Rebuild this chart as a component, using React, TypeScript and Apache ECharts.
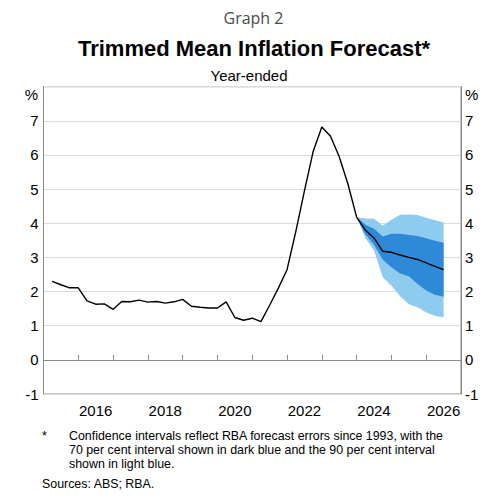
import { useEffect, useRef } from 'react';
import * as echarts from 'echarts';

// ---- data ----
const yearCategories = ['2015', '2016', '2017', '2018', '2019', '2020', '2021', '2022', '2023', '2024', '2025', '2026'];
const yMin = -1;
const yMax = 8;

// Trimmed mean inflation, year-ended %, quarterly from Mar 2015 to Dec 2023
const historyStart = 2015.25; // plotted at quarter end
const quarterStep = 0.25;
const trimmedMean = [
  2.3, 2.2, 2.11, 2.11,
  1.73, 1.63, 1.64, 1.48,
  1.71, 1.7, 1.75, 1.69,
  1.71, 1.66, 1.7, 1.77,
  1.57, 1.54, 1.52, 1.52,
  1.7, 1.24, 1.16, 1.22,
  1.12, 1.6, 2.1, 2.64,
  3.75, 4.95, 6.1, 6.82,
  6.55, 5.95, 5.15, 4.18,
];

// Forecast, Dec 2023 to Jun 2026
const forecastStart = 2024.0;
const forecastCentral = [4.18, 3.8, 3.57, 3.18, 3.15, 3.07, 3.0, 2.94, 2.84, 2.74, 2.64];
const ninetyUpper = [4.18, 4.14, 4.13, 3.93, 4.1, 4.25, 4.26, 4.24, 4.16, 4.09, 4.02];
const seventyUpper = [4.18, 3.96, 3.84, 3.61, 3.69, 3.69, 3.66, 3.63, 3.56, 3.49, 3.43];
const seventyLower = [4.18, 3.68, 3.37, 2.93, 2.71, 2.53, 2.45, 2.22, 2.03, 1.91, 1.85];
const ninetyLower = [4.18, 3.57, 3.2, 2.42, 2.18, 1.86, 1.63, 1.54, 1.39, 1.29, 1.24];

const footnoteLines = [
  'Confidence intervals reflect RBA forecast errors since 1993, with the',
  '70 per cent interval shown in dark blue and the 90 per cent interval',
  'shown in light blue.',
];
const sourcesText = 'Sources: ABS; RBA.';

const LIGHT = '#8fcbef';
const DARK = '#2e8ad8';
const FONT = '"Liberation Sans", Arial, sans-serif';

export default function App() {
  const ref = useRef<HTMLDivElement>(null);

  useEffect(() => {
    if (!ref.current) return;
    const chart = echarts.init(ref.current, undefined, { renderer: 'svg' });

    const histData = trimmedMean.map((v, i) => [historyStart + i * quarterStep, v]);
    const fx = (i: number) => forecastStart + i * quarterStep;
    const lineData = histData.concat(forecastCentral.slice(1).map((v, i) => [fx(i + 1), v]));

    const bands = [
      { lower: ninetyLower, upper: ninetyUpper, color: LIGHT },
      { lower: seventyLower, upper: seventyUpper, color: DARK },
    ];

    const gridLineColors: string[] = [];
    for (let v = yMin; v <= yMax; v++) gridLineColors.push(v === 0 ? '#a8a8a8' : '#dadada');

    chart.setOption({
      animation: false,
      grid: {
        left: 43.5,
        right: 38,
        top: 86.7,
        bottom: 106,
        show: true,
        borderColor: '#8a8a8a',
        borderWidth: 1,
        backgroundColor: 'transparent',
      },
      xAxis: [
        {
          type: 'value',
          min: 2015,
          max: 2027,
          interval: 1,
          position: 'bottom',
          axisLine: { show: true, lineStyle: { color: '#8a8a8a', width: 1 } },
          axisTick: { show: true, inside: true, length: 5, lineStyle: { color: '#8a8a8a' } },
          axisLabel: { show: false },
          splitLine: { show: false },
        },
        {
          type: 'category',
          data: yearCategories,
          position: 'bottom',
          boundaryGap: true,
          axisLine: { show: false },
          axisTick: { show: false },
          splitLine: { show: false },
          axisLabel: {
            interval: (index: number) => index % 2 === 1,
            fontSize: 15,
            fontFamily: FONT,
            color: '#000',
            margin: 9,
          },
        },
      ],
      yAxis: [
        {
          type: 'value',
          min: yMin,
          max: yMax,
          interval: 1,
          position: 'left',
          axisLine: { show: true, lineStyle: { color: '#8a8a8a' } },
          axisTick: { show: false },
          axisLabel: {
            formatter: (v: number) => (v === yMax ? '' : String(v)),
            fontSize: 15,
            fontFamily: FONT,
            color: '#000',
            margin: 5,
          },
          splitLine: { show: true, lineStyle: { color: gridLineColors, width: 1 } },
        },
        {
          type: 'value',
          min: yMin,
          max: yMax,
          interval: 1,
          position: 'right',
          axisLine: { show: true, lineStyle: { color: '#8a8a8a' } },
          axisTick: { show: false },
          axisLabel: {
            formatter: (v: number) => (v === yMax ? '' : String(v)),
            fontSize: 15,
            fontFamily: FONT,
            color: '#000',
            margin: 4,
          },
          splitLine: { show: false },
        },
      ],
      series: [
        {
          name: 'Confidence intervals',
          type: 'custom',
          xAxisIndex: 0,
          yAxisIndex: 0,
          silent: true,
          clip: false,
          z: 2,
          data: bands.map(() => [forecastStart, forecastCentral[0]]),
          renderItem: (params: any, api: any) => {
            const b = bands[params.dataIndex];
            const pts: number[][] = [];
            for (let i = 0; i < b.upper.length; i++) pts.push(api.coord([fx(i), b.upper[i]]));
            for (let i = b.lower.length - 1; i >= 0; i--) pts.push(api.coord([fx(i), b.lower[i]]));
            return { type: 'polygon', shape: { points: pts }, style: { fill: b.color } };
          },
        },
        {
          name: 'Trimmed mean',
          type: 'line',
          xAxisIndex: 0,
          yAxisIndex: 0,
          data: lineData,
          symbol: 'none',
          silent: true,
          lineStyle: { color: '#000', width: 1.4 },
          z: 5,
        },
      ],
      graphic: [
        {
          type: 'text',
          x: 253.5,
          y: 18,
          style: {
            text: 'Graph 2',
            font: '16px "Open Sans", sans-serif',
            fill: '#4a4a4a',
            textAlign: 'center',
            textVerticalAlign: 'middle',
          },
        },
        {
          type: 'text',
          x: 254,
          y: 48,
          style: {
            text: 'Trimmed Mean Inflation Forecast*',
            font: `bold 22px ${FONT}`,
            fill: '#000',
            textAlign: 'center',
            textVerticalAlign: 'middle',
          },
        },
        {
          type: 'text',
          x: 249,
          y: 75,
          style: { text: 'Year-ended', font: `15px ${FONT}`, fill: '#000', textAlign: 'center', textVerticalAlign: 'middle' },
        },
        {
          type: 'text',
          x: 38,
          y: 94,
          style: { text: '%', font: `15px ${FONT}`, fill: '#000', textAlign: 'right', textVerticalAlign: 'middle' },
        },
        {
          type: 'text',
          x: 465,
          y: 94,
          style: { text: '%', font: `15px ${FONT}`, fill: '#000', textAlign: 'left', textVerticalAlign: 'middle' },
        },
        {
          type: 'text',
          x: 42,
          y: 436,
          style: { text: '*', font: `12.4px ${FONT}`, fill: '#000', textVerticalAlign: 'middle' },
        },
        ...footnoteLines.map((t, i) => ({
          type: 'text',
          x: 69,
          y: 435.7 + i * 14.3,
          style: { text: t, font: `12.4px ${FONT}`, fill: '#000', textVerticalAlign: 'middle' },
        })),
        {
          type: 'text',
          x: 42,
          y: 483.5,
          style: { text: sourcesText, font: `12.4px ${FONT}`, fill: '#000', textVerticalAlign: 'middle' },
        },
      ],
    });

    return () => chart.dispose();
  }, []);

  return (
    <div
      ref={ref}
      style={{ position: 'fixed', left: 0, top: 0, width: 499, height: 500, background: '#fff' }}
    />
  );
}
